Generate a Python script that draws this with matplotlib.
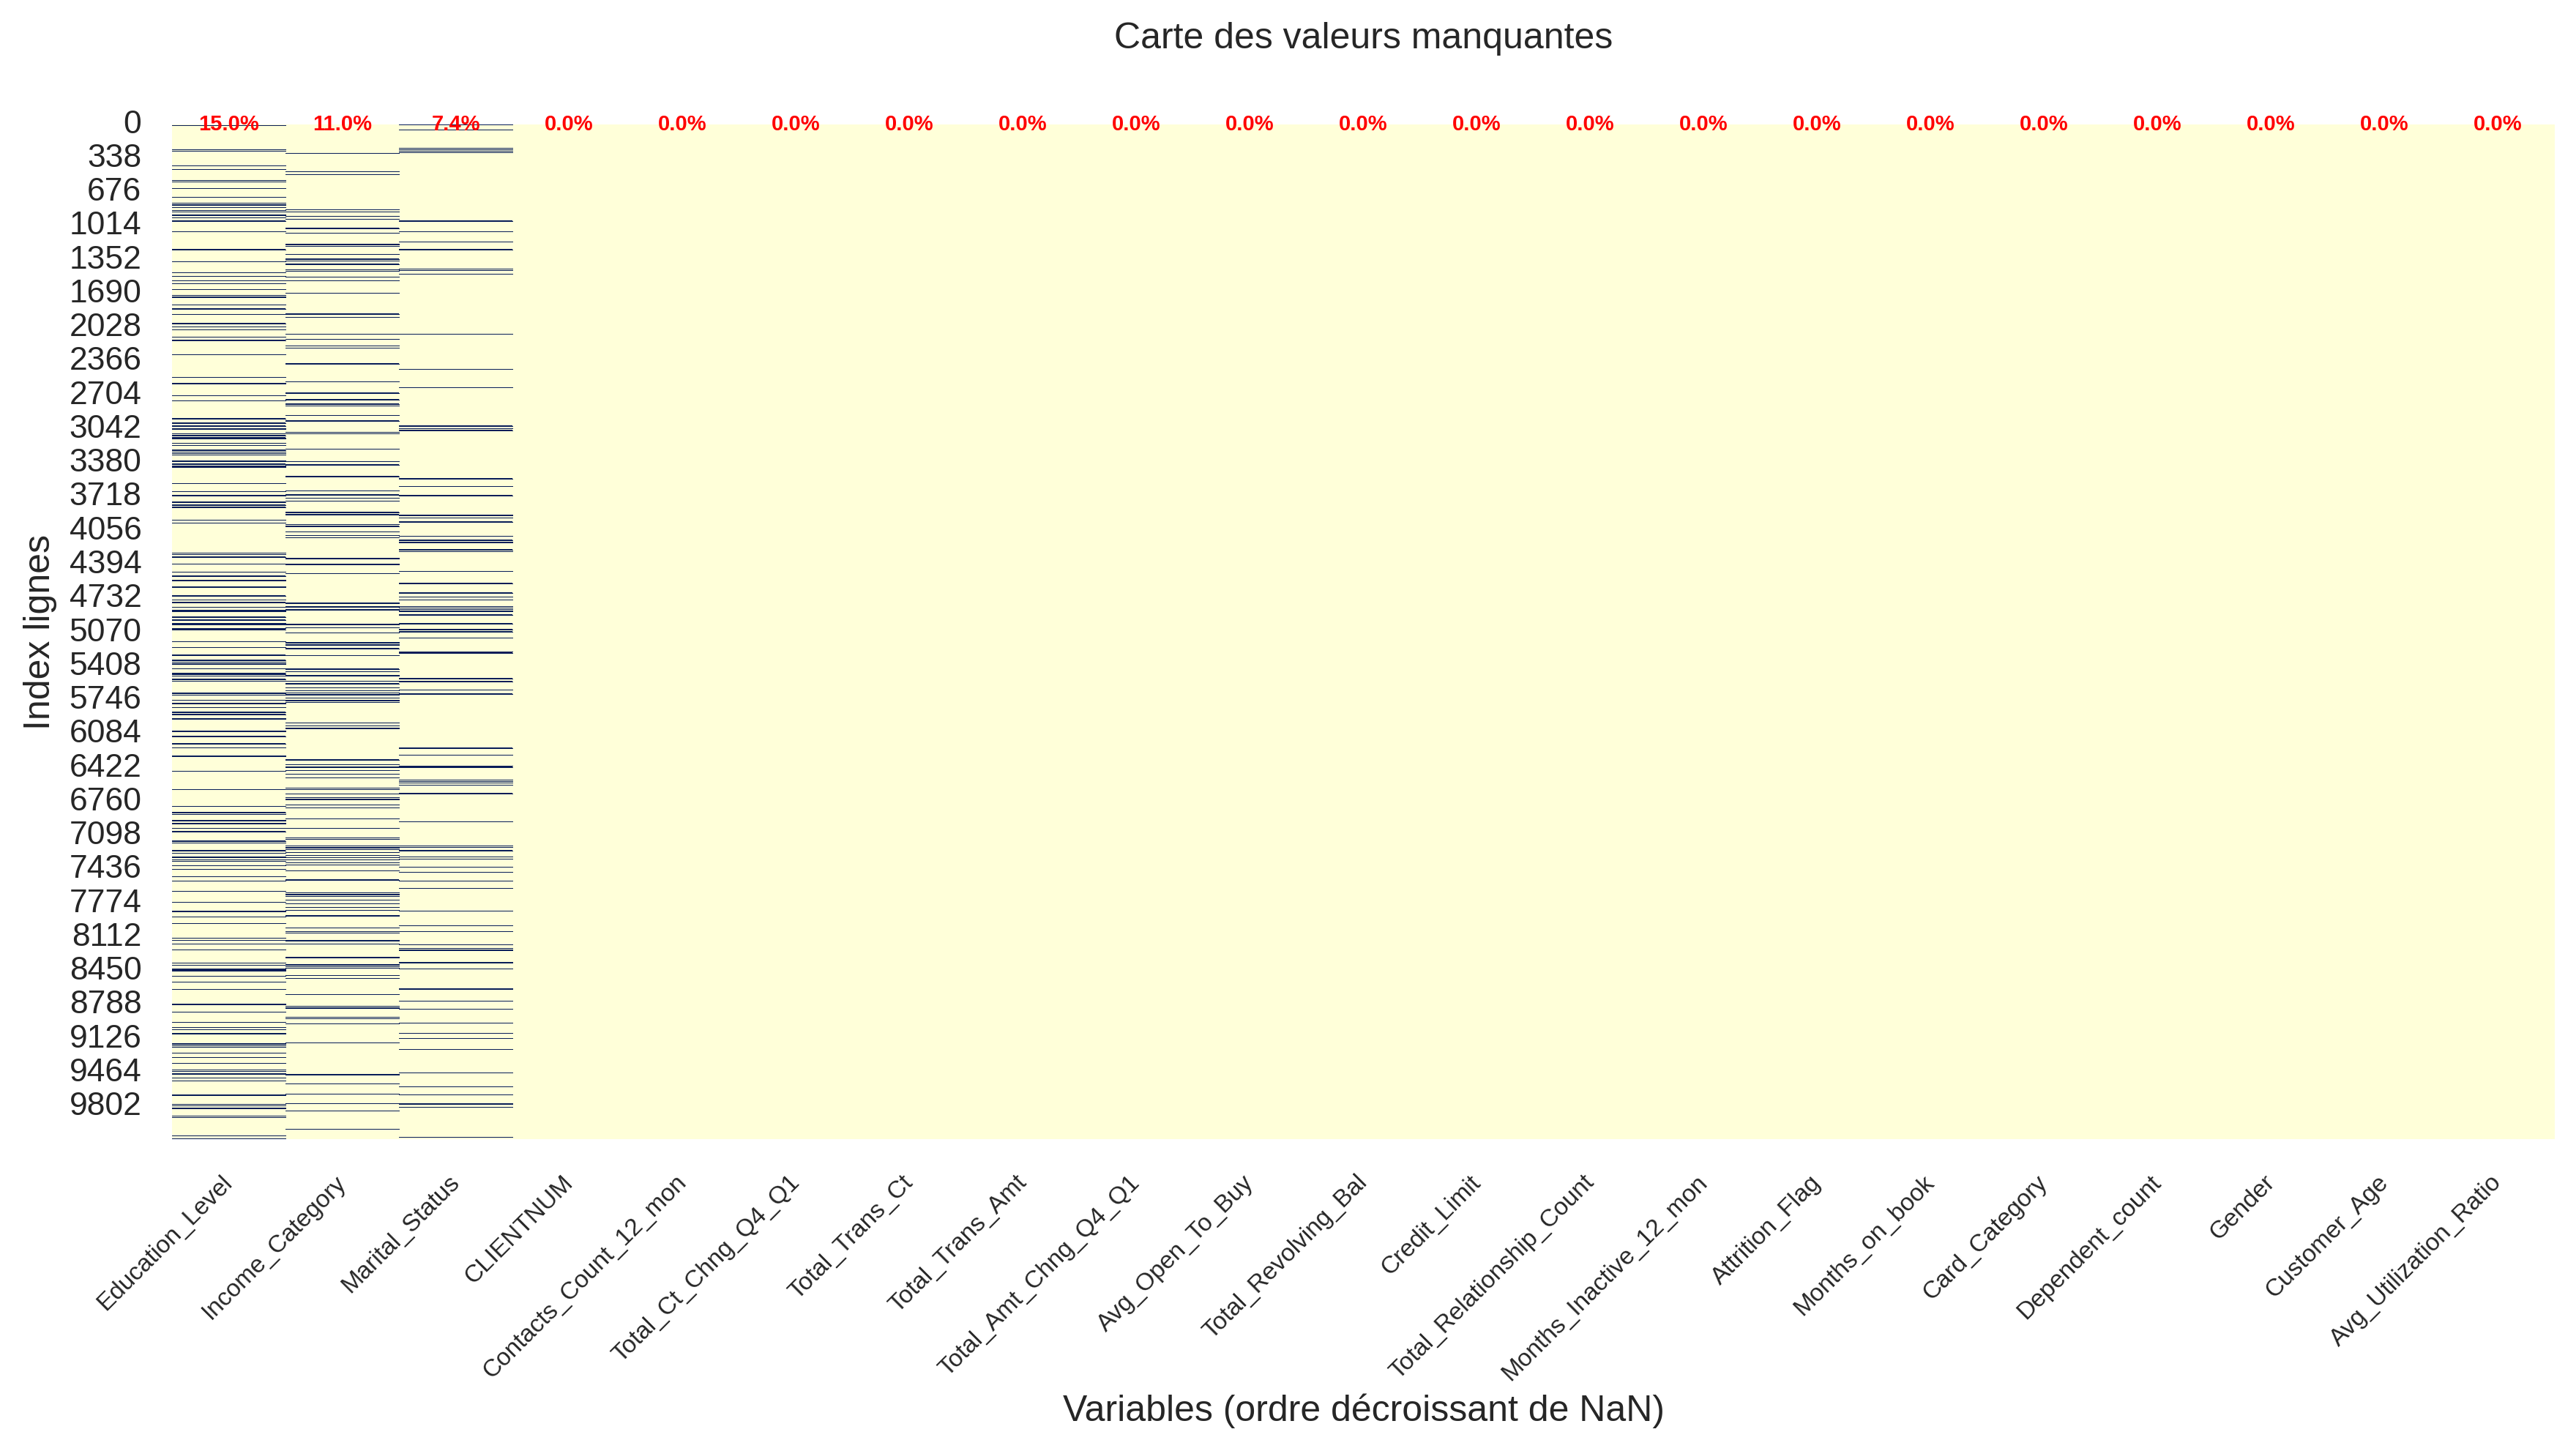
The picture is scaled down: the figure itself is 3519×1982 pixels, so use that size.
import numpy as np
import pandas as pd
import matplotlib
matplotlib.use("Agg")
import matplotlib.pyplot as plt
import seaborn as sns

# colonnes triées par taux de NaN décroissant
colonnes = ["Education_Level", "Income_Category", "Marital_Status", "CLIENTNUM",
            "Contacts_Count_12_mon", "Total_Ct_Chng_Q4_Q1", "Total_Trans_Ct",
            "Total_Trans_Amt", "Total_Amt_Chng_Q4_Q1", "Avg_Open_To_Buy",
            "Total_Revolving_Bal", "Credit_Limit", "Total_Relationship_Count",
            "Months_Inactive_12_mon", "Attrition_Flag", "Months_on_book",
            "Card_Category", "Dependent_count", "Gender", "Customer_Age",
            "Avg_Utilization_Ratio"]
pct_nan = [15.0, 11.0, 7.4] + [0.0] * 18
n_lignes = 10127

# lignes manquantes (estimées sur l'image)
nan_education = [9, 251, 265, 411, 446, 553, 572, 638, 723, 782, 797, 804, 828, 853, 867, 899, 906, 928, 960,
                 1067, 1245, 1369, 1478, 1515, 1554, 1588, 1646, 1703, 1717, 1724, 1800, 1837, 1895, 1983,
                 2019, 2048, 2121, 2151, 2297, 2523, 2577, 2584, 2706, 2757, 2933, 2977, 3006, 3030, 3037,
                 3086, 3101, 3123, 3137, 3181, 3203, 3247, 3262, 3279, 3296, 3352, 3359, 3386, 3404, 3411,
                 3418, 3581, 3663, 3700, 3766, 3795, 3817, 3948, 3976, 4277, 4290, 4314, 4380, 4467, 4504,
                 4541, 4548, 4612, 4619, 4701, 4738, 4767, 4811, 4843, 4850, 4857, 4913, 4942, 4972, 4986,
                 5026, 5037, 5157, 5213, 5293, 5344, 5359, 5376, 5383, 5425, 5469, 5483, 5498, 5534, 5549,
                 5673, 5688, 5739, 5771, 5778, 5812, 5863, 5885, 5924, 5931, 6049, 6056, 6104, 6177, 6214,
                 6297, 6304, 6448, 6636, 6799, 6864, 6879, 6940, 6947, 6967, 6974, 7018, 7054, 7149, 7164,
                 7244, 7266, 7306, 7313, 7332, 7352, 7391, 7427, 7500, 7544, 7646, 7756, 7847, 7854, 7902,
                 7968, 8114, 8136, 8173, 8231, 8363, 8390, 8427, 8434, 8441, 8448, 8494, 8553, 8626, 8775,
                 8782, 8852, 8955, 9006, 9028, 9069, 9076, 9169, 9176, 9188, 9208, 9261, 9305, 9364, 9432,
                 9444, 9471, 9478, 9510, 9539, 9681, 9688, 9773, 9793, 9812, 9819, 9890, 9905, 10092, 10122]
nan_income = [287, 470, 499, 848, 872, 916, 945, 1033, 1084, 1189, 1201, 1213, 1296, 1340, 1361, 1391, 1445,
              1462, 1522, 1559, 1683, 1888, 1924, 2092, 2143, 2207, 2231, 2385, 2567, 2677, 2743, 2787, 2808,
              2903, 2955, 3071, 3086, 3237, 3362, 3393, 3510, 3656, 3693, 3729, 3758, 3868, 3890, 3992, 4007,
              4014, 4065, 4095, 4122, 4328, 4335, 4386, 4393, 4475, 4769, 4776, 4805, 4812, 4833, 4847, 4981,
              4988, 5016, 5067, 5163, 5170, 5190, 5197, 5227, 5300, 5432, 5454, 5497, 5504, 5549, 5578, 5615,
              5644, 5666, 5687, 5694, 5720, 5743, 5750, 5766, 5966, 5995, 6023, 6030, 6338, 6382, 6411, 6443,
              6477, 6514, 6619, 6633, 6677, 6714, 6727, 6734, 6784, 6813, 6923, 7018, 7113, 7128, 7198, 7210,
              7217, 7233, 7264, 7291, 7313, 7332, 7361, 7383, 7447, 7536, 7543, 7664, 7680, 7687, 7703, 7737,
              7771, 7810, 7836, 7889, 7896, 8012, 8048, 8063, 8138, 8145, 8173, 8306, 8313, 8377, 8384, 8399,
              8414, 8490, 8516, 8677, 8797, 8808, 8821, 8906, 8918, 8969, 9159, 9473, 9480, 9568, 9671, 9766,
              9839, 10021]
nan_marital = [2, 53, 236, 248, 261, 275, 960, 1067, 1171, 1245, 1442, 1454, 1493, 2092, 2443, 2624, 3006,
               3033, 3050, 3532, 3612, 3700, 3897, 3904, 3924, 3963, 4109, 4146, 4167, 4174, 4241, 4261, 4453,
               4577, 4672, 4709, 4738, 4807, 4821, 4836, 4854, 4861, 4891, 4979, 5037, 5059, 5118, 5257, 5271,
               5527, 5556, 5640, 5680, 6221, 6287, 6400, 6411, 6536, 6550, 6568, 6587, 6674, 6955, 7196, 7211,
               7244, 7303, 7325, 7408, 7456, 7544, 7617, 7844, 7990, 8048, 8180, 8219, 8234, 8241, 8357, 8364,
               8421, 8620, 8627, 8743, 8826, 8962, 9064, 9115, 9225, 9459, 9598, 9678, 9770, 9777, 9802, 10102]

nan_par_col = {"Education_Level": nan_education,
               "Income_Category": nan_income,
               "Marital_Status": nan_marital}

sns.set_theme(style="white", context="talk")
plt.rcParams["font.family"] = ["Liberation Sans", "DejaVu Sans"]

manquant = np.zeros((n_lignes, len(colonnes)), dtype=bool)
for j, c in enumerate(colonnes):
    if c in nan_par_col:
        manquant[nan_par_col[c], j] = True
df_nan = pd.DataFrame(manquant, columns=colonnes)

fig = plt.figure(figsize=(17.595, 9.91), dpi=200)
ax = fig.add_axes([0.0668, 0.2149, 0.9250, 0.6993])

cmap = plt.get_cmap("YlGnBu")
sns.heatmap(df_nan, cmap=cmap, cbar=False, yticklabels=338, ax=ax)

# une cellule fait moins d'un pixel de haut : on repasse chaque NaN en trait d'1 px
for j, c in enumerate(colonnes):
    if c in nan_par_col:
        r = np.array(nan_par_col[c]) + 0.5
        ax.hlines(r, j, j + 1, colors=cmap(1.0), linewidth=0.36, antialiased=False)

for j, p in enumerate(pct_nan):
    ax.text(j + 0.5, 0, f"{p:.1f}%", ha="center", va="center", color="red",
            fontsize=10.5, fontweight="bold")

ax.set_title("Carte des valeurs manquantes", fontsize=18, pad=37.5)
ax.set_xlabel("Variables (ordre décroissant de NaN)", fontsize=18, labelpad=4)
ax.set_ylabel("Index lignes", fontsize=18, labelpad=6)

ax.tick_params(axis="y", labelsize=16, length=0, pad=15)
ax.tick_params(axis="x", labelsize=12, length=0, pad=19.7)
plt.setp(ax.get_yticklabels(), rotation=0)
plt.setp(ax.get_xticklabels(), rotation=45, ha="right", va="center", rotation_mode="anchor")

fig.savefig("out.png", dpi=200)
